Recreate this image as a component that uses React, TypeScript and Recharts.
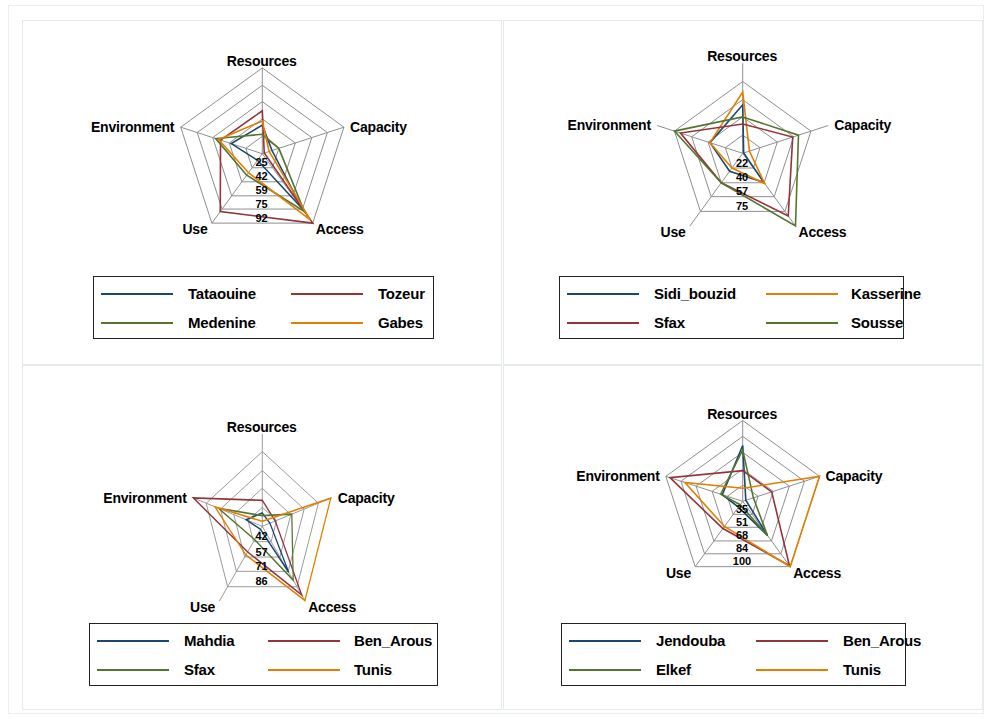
import React from 'react';
import { RadarChart, Radar, PolarGrid, PolarAngleAxis, PolarRadiusAxis } from 'recharts';

const axes = ['Resources', 'Capacity', 'Access', 'Use', 'Environment'];

const BLUE = '#1a476f';
const RED = '#90353b';
const GREEN = '#55752f';
const ORANGE = '#e37e00';

// Panel 1
const p1Names = ['Tataouine', 'Tozeur', 'Medenine', 'Gabes'];
const tataouine = [36, 18, 74, 16, 40];
const tozeur = [50, 10, 92, 78, 51];
const medenine = [27, 25, 78, 34, 56];
const gabes = [40, 15, 88, 31, 53];
const p1Ticks = [8.2, 25, 42, 59, 75, 92];
const p1Domain = [8.2, 92.2];

// Panel 2
const p2Names = ['Sidi_bouzid', 'Kasserine', 'Sfax', 'Sousse'];
const sidiBouzid = [52, 5, 39.5, 26, 38];
const kasserine = [64.5, 11, 41, 22, 38];
const sfax2 = [33, 56, 80.6, 40, 68.7];
const sousse = [40, 62, 92.8, 40, 75];
const p2Ticks = [4.3, 22, 40, 57, 75];
const p2Domain = [4.3, 93];

// Panel 3
const p3Names = ['Mahdia', 'Ben_Arous', 'Sfax', 'Tunis'];
const mahdia = [37.5, 35, 72, 30, 44];
const benArous3 = [47.5, 40.6, 94, 52, 99.5];
const sfax3 = [35.4, 58, 79.6, 40, 73.3];
const tunis3 = [31, 99, 99.5, 55, 76.8];
const p3Ticks = [27.3, 42, 57, 71, 86];
const p3Domain = [27.3, 100];

// Panel 4
const p4Names = ['Jendouba', 'Ben_Arous', 'Elkef', 'Tunis'];
const jendouba = [74.8, 22, 61.4, 26, 40.3];
const benArous4 = [49.6, 49.4, 98.7, 52.6, 95.7];
const elkef = [70.4, 30, 61, 23, 42];
const tunis4 = [31.8, 100, 100, 50, 79.8];
const p4Ticks = [18.7, 35, 51, 68, 84, 100];
const p4Domain = [18.7, 100];

const FONT = '"Liberation Sans", Arial, Helvetica, sans-serif';

type PanelCfg = {
  left: number;
  top: number;
  cx: number;
  cy: number;
  R: number;
  kx: number;
  names: string[];
  series: number[][];
  colors: string[];
  ticks: number[];
  domain: number[];
  legend: { left: number; top: number; width: number; col2Line: number; col2Text: number };
};

const buildData = (names: string[], series: number[][]) =>
  axes.map((a, i) => {
    const row: Record<string, any> = { axis: a };
    names.forEach((n, j) => {
      row[n] = series[j][i];
    });
    return row;
  });

const Dot = () => (
  <tspan fill="#b8b8b8" fontSize="5">.</tspan>
);

function Panel({ cfg }: { cfg: PanelCfg }) {
  const data = buildData(cfg.names, cfg.series);
  const { cx, cy, R, kx } = cfg;
  const unscale = (x: number, y: number) => `translate(${x},${y}) scale(${1 / kx},1) translate(${-x},${-y})`;

  const angleTick = (props: any) => {
    const { x, y, index, payload } = props;
    const dx = x - cx;
    const dy = y - cy;
    const len = Math.sqrt(dx * dx + dy * dy) || 1;
    const ex = cx + (dx / len) * R;
    const ey = cy + (dy / len) * R;
    let tx = ex;
    let ty = ey;
    let anchor: any = 'middle';
    if (index === 0) {
      ty = ey - 2;
    } else if (index === 1) {
      tx = ex + 6 / kx;
      ty = ey + 5;
      anchor = 'start';
    } else if (index === 2) {
      tx = ex + 3 / kx;
      ty = ey + 11;
      anchor = 'start';
    } else if (index === 3) {
      tx = ex - 3 / kx;
      ty = ey + 11;
      anchor = 'end';
    } else {
      tx = ex - 5 / kx;
      ty = ey + 5;
      anchor = 'end';
    }
    return (
      <g transform={unscale(tx, ty)}>
        <text x={tx} y={ty} textAnchor={anchor} fontFamily={FONT} fontWeight="bold" fontSize={14} fill="#000" letterSpacing={-0.2}>
          {payload.value}
          <Dot />
        </text>
      </g>
    );
  };

  const radiusTick = (props: any) => {
    const { y, payload, index } = props;
    if (index === 0) return <g />;
    const edge = cy + (y - cy) * Math.cos(Math.PI / 5);
    return (
      <g transform={unscale(cx, edge)}>
        <text x={cx} y={edge - 1.5} textAnchor="middle" fontFamily={FONT} fontWeight="bold" fontSize={11} fill="#000">
          {Math.round(payload.value)}
          <Dot />
        </text>
      </g>
    );
  };

  const lg = cfg.legend;
  const rows = [
    [0, 1],
    [2, 3],
  ];

  return (
    <div
      style={{
        position: 'absolute',
        left: cfg.left,
        top: cfg.top,
        width: 480,
        height: 345,
        boxSizing: 'border-box',
        border: '1px solid #e4eaee',
        background: '#fff',
      }}
    >
      <div
        style={{
          position: 'absolute',
          left: -1,
          top: -1,
          transform: `scaleX(${kx})`,
          transformOrigin: `${cx}px ${cy}px`,
        }}
      >
        <RadarChart width={480} height={345} data={data} cx={cx} cy={cy} outerRadius={R} startAngle={90} endAngle={-270}>
          <PolarGrid gridType="polygon" stroke="#8f8f8f" strokeWidth={1} />
          <PolarAngleAxis dataKey="axis" tick={angleTick} tickLine={false} axisLine={false} />
          <PolarRadiusAxis
            angle={-90}
            type="number"
            domain={cfg.domain}
            ticks={cfg.ticks}
            tick={radiusTick}
            axisLine={false}
            tickLine={false}
          />
          {cfg.names.map((n, j) => (
            <Radar
              key={n}
              dataKey={n}
              stroke={cfg.colors[j]}
              strokeWidth={1.6}
              fill="none"
              fillOpacity={0}
              dot={false}
              isAnimationActive={false}
            />
          ))}
        </RadarChart>
      </div>
      <div
        style={{
          position: 'absolute',
          left: lg.left,
          top: lg.top,
          width: lg.width,
          height: 63,
          boxSizing: 'border-box',
          border: '1px solid #222',
          fontFamily: FONT,
          fontWeight: 'bold',
          fontSize: 15,
          letterSpacing: -0.2,
          color: '#000',
        }}
      >
        {rows.map((r, ri) =>
          r.map((si, ci) => (
            <React.Fragment key={si}>
              <div
                style={{
                  position: 'absolute',
                  left: ci === 0 ? 7 : lg.col2Line,
                  top: ri === 0 ? 16 : 45,
                  width: 72,
                  height: 2,
                  background: cfg.colors[si],
                }}
              />
              <div
                style={{
                  position: 'absolute',
                  left: ci === 0 ? 94 : lg.col2Text,
                  top: ri === 0 ? 8 : 37,
                  lineHeight: '17px',
                  whiteSpace: 'nowrap',
                }}
              >
                {cfg.names[si]}
                <span style={{ color: '#b8b8b8', fontSize: 6 }}>.</span>
              </div>
            </React.Fragment>
          ))
        )}
      </div>
    </div>
  );
}

const panels: PanelCfg[] = [
  {
    left: 22,
    top: 20,
    cx: 240.3,
    cy: 133.7,
    R: 86,
    kx: 1,
    names: p1Names,
    series: [tataouine, tozeur, medenine, gabes],
    colors: [BLUE, RED, GREEN, ORANGE],
    ticks: p1Ticks,
    domain: p1Domain,
    legend: { left: 70, top: 255, width: 341, col2Line: 197, col2Text: 284 },
  },
  {
    left: 503,
    top: 20,
    cx: 239.7,
    cy: 133.3,
    R: 90,
    kx: 1,
    names: p2Names,
    series: [sidiBouzid, kasserine, sfax2, sousse],
    colors: [BLUE, ORANGE, RED, GREEN],
    ticks: p2Ticks,
    domain: p2Domain,
    legend: { left: 55, top: 255, width: 345, col2Line: 206, col2Text: 291 },
  },
  {
    left: 22,
    top: 365,
    cx: 240.3,
    cy: 161.3,
    R: 92.4,
    kx: 0.79,
    names: p3Names,
    series: [mahdia, benArous3, sfax3, tunis3],
    colors: [BLUE, RED, GREEN, ORANGE],
    ticks: p3Ticks,
    domain: p3Domain,
    legend: { left: 66, top: 257, width: 349, col2Line: 178, col2Text: 264 },
  },
  {
    left: 503,
    top: 365,
    cx: 239.7,
    cy: 136.3,
    R: 80.8,
    kx: 1,
    names: p4Names,
    series: [jendouba, benArous4, elkef, tunis4],
    colors: [BLUE, RED, GREEN, ORANGE],
    ticks: p4Ticks,
    domain: p4Domain,
    legend: { left: 57, top: 257, width: 345, col2Line: 194, col2Text: 281 },
  },
];

export default function App() {
  return (
    <div style={{ position: 'absolute', left: 0, top: 0, width: 985, height: 719, background: '#fff', overflow: 'hidden' }}>
      <div
        style={{
          position: 'absolute',
          left: 8,
          top: 5,
          width: 976,
          height: 709,
          boxSizing: 'border-box',
          border: '1px solid #e8edf0',
        }}
      />
      {panels.map((p, i) => (
        <Panel key={i} cfg={p} />
      ))}
    </div>
  );
}
